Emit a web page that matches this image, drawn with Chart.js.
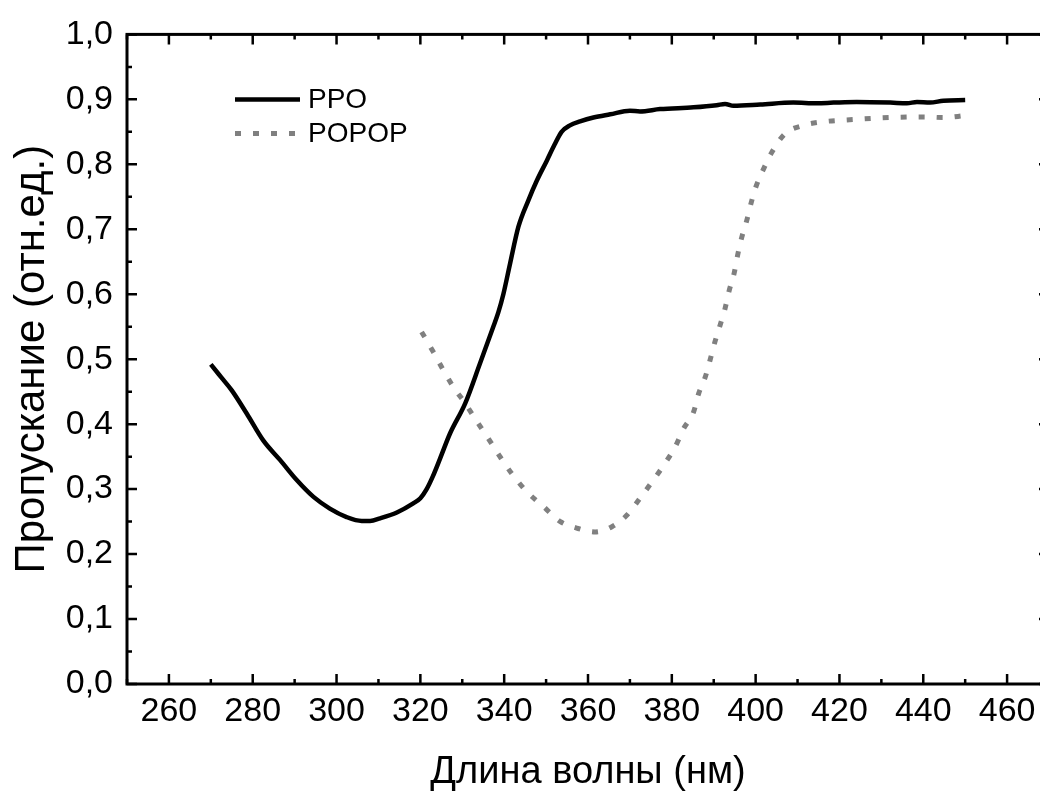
<!DOCTYPE html>
<html>
<head>
<meta charset="utf-8">
<script src="https://cdn.jsdelivr.net/npm/chart.js@4/dist/chart.umd.min.js"></script>
<style>
  html, body { margin: 0; padding: 0; background: #fff; overflow: hidden; }
  #wrap { width: 1060px; height: 795px; }
</style>
</head>
<body>
<div id="wrap"><canvas id="chart" width="1060" height="795"></canvas></div>
<script>
// wavelength (nm) and transmission values
const ppoWave = [270, 272.5, 275, 278.6, 282.5, 286.5, 290.5, 294.5, 298.4, 302.4, 306, 308,
  310.4, 314.4, 318.3, 320, 321.5, 323, 324.7, 327.1, 330.7, 334.2, 337.4, 338.6, 339.8, 341.4,
  343.4, 345.8, 347.8, 350.2, 352, 353.7, 355.7, 358.1, 361.3, 365.3, 370, 372.4, 377.2,
  385.2, 390.7, 392.7, 394.7, 401.1, 409, 414.6, 418.6, 424.1, 432.1, 436.1, 438.5, 441.6,
  444.8, 450];
const ppoValues = [0.492, 0.472, 0.452, 0.416, 0.375, 0.345, 0.314, 0.288, 0.270, 0.257, 0.251, 0.251,
  0.255, 0.264, 0.278, 0.286, 0.300, 0.320, 0.347, 0.386, 0.432, 0.493, 0.550, 0.572, 0.600, 0.647,
  0.704, 0.745, 0.775, 0.806, 0.830, 0.850, 0.860, 0.866, 0.872, 0.877, 0.8826, 0.8815, 0.885,
  0.8877, 0.891, 0.893, 0.890, 0.892, 0.895, 0.894, 0.895, 0.896, 0.895, 0.894, 0.896, 0.895,
  0.898, 0.899];

const popopWave = [320.3, 323.1, 325.5, 327.9, 330.7, 333.5, 336.2, 339, 341.8, 345.4, 349.4, 353.4,
  357.3, 361.7, 365.7, 369.3, 372.4, 375.6, 378.4, 380.8, 382.8, 385.2, 386.4, 388, 389.1, 390.3,
  391.5, 392.7, 393.7, 394.9, 395.7, 396.7, 397.9, 398.9, 400.1, 401.9, 403.9, 407, 411.4, 415.4,
  423.4, 432.1, 440.1, 444.8, 450];
const popopValues = [0.542, 0.511, 0.483, 0.457, 0.432, 0.404, 0.378, 0.350, 0.324, 0.296, 0.273, 0.250,
  0.240, 0.234, 0.242, 0.260, 0.286, 0.314, 0.340, 0.365, 0.393, 0.419, 0.447, 0.473, 0.498, 0.527,
  0.552, 0.578, 0.606, 0.633, 0.660, 0.688, 0.714, 0.740, 0.766, 0.793, 0.819, 0.847, 0.860, 0.865,
  0.869, 0.872, 0.873, 0.872, 0.875];

const seriesNames = ["PPO", "POPOP"];

const FONT = "'Liberation Sans', Arial, sans-serif";

const toPoints = (xs, ys) => xs.map((x, i) => ({ x: x, y: ys[i] }));

// frame with inward ticks on all four sides + legend inside the plot
const framePlugin = {
  id: "frame",
  afterDraw(chart) {
    const { ctx, chartArea: a, scales } = chart;
    const xs = scales.x, ys = scales.y;
    ctx.save();
    ctx.strokeStyle = "#000";
    ctx.lineWidth = 3;
    ctx.strokeRect(a.left, a.top, a.right - a.left, a.bottom - a.top);
    ctx.lineWidth = 2.5;
    ctx.beginPath();
    for (let v = 250; v <= 470; v += 10) {
      const px = xs.getPixelForValue(v);
      const len = v % 20 === 0 ? 10 : 5;
      ctx.moveTo(px, a.bottom); ctx.lineTo(px, a.bottom - len);
      ctx.moveTo(px, a.top); ctx.lineTo(px, a.top + len);
    }
    for (let i = 0; i <= 20; i++) {
      const py = ys.getPixelForValue(i * 0.05);
      const len = i % 2 === 0 ? 10 : 5;
      ctx.moveTo(a.left, py); ctx.lineTo(a.left + len, py);
      ctx.moveTo(a.right, py); ctx.lineTo(a.right - len, py);
    }
    ctx.stroke();

    // legend
    ctx.font = "28px " + FONT;
    ctx.textBaseline = "middle";
    chart.data.datasets.forEach((ds, i) => {
      const y = a.top + 65 + i * 34;
      const x0 = a.left + 108;
      ctx.strokeStyle = ds.borderColor;
      ctx.lineWidth = ds.borderWidth;
      ctx.setLineDash(ds.borderDash || []);
      ctx.beginPath();
      ctx.moveTo(x0, y); ctx.lineTo(x0 + 65, y);
      ctx.stroke();
      ctx.setLineDash([]);
      ctx.fillStyle = "#000";
      ctx.fillText(ds.label, x0 + 73, y + 1);
    });
    ctx.restore();
  },
};

new Chart(document.getElementById("chart"), {
  type: "line",
  data: {
    datasets: [
      {
        label: seriesNames[0],
        data: toPoints(ppoWave, ppoValues),
        borderColor: "#000000",
        borderWidth: 4.5,
        pointRadius: 0,
        cubicInterpolationMode: "monotone",
      },
      {
        label: seriesNames[1],
        data: toPoints(popopWave, popopValues),
        borderColor: "#808080",
        borderWidth: 5,
        borderDash: [6, 12],
        pointRadius: 0,
        cubicInterpolationMode: "monotone",
      },
    ],
  },
  options: {
    responsive: false,
    animation: false,
    devicePixelRatio: 1,
    layout: { padding: { top: 34, right: 11, left: 0, bottom: 0 } },
    plugins: { legend: { display: false }, tooltip: { enabled: false } },
    scales: {
      x: {
        type: "linear",
        min: 250,
        max: 470,
        grid: { display: false, drawTicks: false },
        border: { display: false },
        afterBuildTicks: (s) => { s.ticks = s.ticks.filter((t) => t.value % 20 === 0); },
        afterFit: (s) => { s.height = 111; },
        ticks: {
          stepSize: 10,
          color: "#000",
          padding: 7,
          maxRotation: 0,
          autoSkip: false,
          font: { family: FONT, size: 34 },
        },
        title: {
          display: true,
          text: "Длина волны (нм)",
          color: "#000",
          padding: 0,
          font: { family: FONT, size: 38 },
        },
      },
      y: {
        min: 0,
        max: 1,
        grid: { display: false, drawTicks: false },
        border: { display: false },
        afterFit: (s) => { s.width = 127; },
        ticks: {
          stepSize: 0.1,
          color: "#000",
          padding: 14,
          font: { family: FONT, size: 34 },
          callback: (v) => v.toFixed(1).replace(".", ","),
        },
        title: {
          display: true,
          text: "Пропускание (отн.ед.)",
          color: "#000",
          padding: { top: 7, bottom: 0 },
          font: { family: FONT, size: 42 },
        },
      },
    },
  },
  plugins: [framePlugin],
});
</script>
</body>
</html>
